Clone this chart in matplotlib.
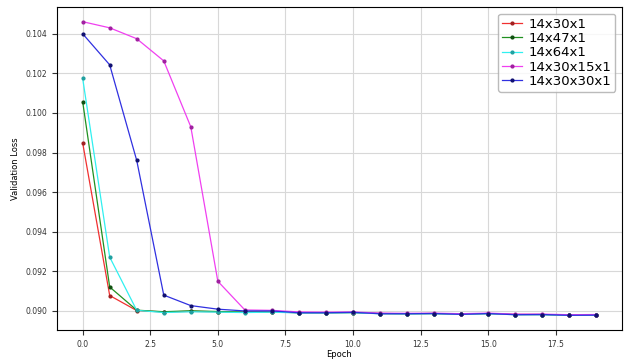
import numpy as np
import matplotlib
matplotlib.use("Agg")
import matplotlib.pyplot as plt

epochs = list(range(20))

# validation loss per epoch for each network layout
loss_14x30x1 = [0.09849, 0.09078, 0.09002, 0.08995, 0.08998, 0.08996, 0.08994, 0.08995, 0.08991, 0.08991,
                0.08992, 0.08987, 0.08986, 0.08987, 0.08984, 0.08987, 0.08982, 0.08982, 0.08979, 0.08980]
loss_14x47x1 = [0.10057, 0.09121, 0.09004, 0.08996, 0.09001, 0.08997, 0.08995, 0.08996, 0.08991, 0.08991,
                0.08992, 0.08987, 0.08986, 0.08987, 0.08984, 0.08987, 0.08982, 0.08982, 0.08979, 0.08980]
loss_14x64x1 = [0.10175, 0.09272, 0.09003, 0.08992, 0.08996, 0.08994, 0.08992, 0.08994, 0.08990, 0.08990,
                0.08991, 0.08986, 0.08985, 0.08986, 0.08983, 0.08986, 0.08981, 0.08981, 0.08978, 0.08979]
loss_14x30x15x1 = [0.10461, 0.10430, 0.10375, 0.10263, 0.09930, 0.09150, 0.09005, 0.09003, 0.08995, 0.08994,
                   0.08995, 0.08989, 0.08988, 0.08989, 0.08986, 0.08989, 0.08984, 0.08984, 0.08981, 0.08982]
loss_14x30x30x1 = [0.10400, 0.10243, 0.09760, 0.09080, 0.09027, 0.09009, 0.09000, 0.09000, 0.08991, 0.08991,
                   0.08993, 0.08986, 0.08986, 0.08987, 0.08983, 0.08987, 0.08981, 0.08982, 0.08978, 0.08979]

labels = ["14x30x1", "14x47x1", "14x64x1", "14x30x15x1", "14x30x30x1"]
series = [loss_14x30x1, loss_14x47x1, loss_14x64x1, loss_14x30x15x1, loss_14x30x30x1]
colors = ["#f03030", "#209020", "#30f0f0", "#f040f0", "#3030e0"]
dots = ["#a02020", "#105010", "#20a0a0", "#a020a0", "#101070"]

fig = plt.figure(figsize=(6.31, 3.61), dpi=100)
ax = fig.add_axes([0.0903, 0.0859, 0.8954, 0.8947])

for y, lab, c, d in zip(series, labels, colors, dots):
    ax.plot(epochs, y, color=c, marker=".", markersize=4, linewidth=0.9,
            markeredgecolor=d, markerfacecolor=d, label=lab)

ax.set_yticks(np.arange(0.090, 0.1041, 0.002))
ax.set_xticks(np.arange(0, 18, 2.5))
ax.tick_params(labelsize=5.5, colors="#333333")
ax.set_xlabel("Epoch", fontsize=6, labelpad=1)
ax.set_ylabel("Validation Loss", fontsize=6, labelpad=4)
ax.grid(True, color="#d8d8d8", linewidth=0.8)
leg = ax.legend(loc="upper right", fontsize=9.5, handlelength=1.5, borderpad=0.3,
                labelspacing=0.1, handletextpad=0.5)
leg.get_frame().set_edgecolor("#aaaaaa")

fig.savefig("out.png", dpi=100)
